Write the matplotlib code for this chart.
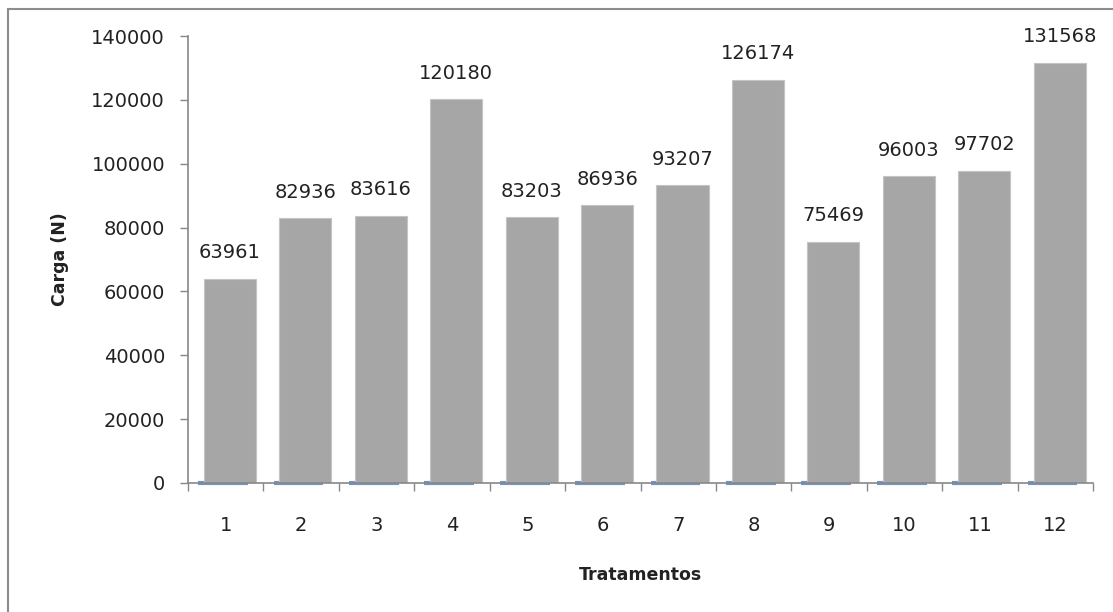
import numpy as np
import matplotlib.pyplot as plt
from matplotlib.lines import Line2D

# data
tratamentos = ['1', '2', '3', '4', '5', '6', '7', '8', '9', '10', '11', '12']
carga = [63961, 82936, 83616, 120180, 83203, 86936, 93207, 126174, 75469, 96003, 97702, 131568]
serie_azul = [0, 0, 0, 0, 0, 0, 0, 0, 0, 0, 0, 0]

fig = plt.figure(figsize=(11.13, 6.12), dpi=100)
ax = fig.add_axes([188 / 1113, 129 / 612, 905 / 1113, 447 / 612])

x = np.arange(len(tratamentos))
ax.bar(x - 0.036, serie_azul, width=0.66, color='#6F96CC', edgecolor='#6F96CC',
       linewidth=3, clip_on=False, zorder=2)
ax.bar(x + 0.057, carga, width=0.69, color='#A6A6A6', edgecolor='#C4C4C4',
       linewidth=0.8, zorder=3)

for xi, v in zip(x, carga):
    ax.annotate(str(v), (xi + 0.057, v), xytext=(0, 12), textcoords='offset points',
                ha='center', va='bottom', fontsize=14, color='#222222')

ax.set_xlim(-0.5, len(tratamentos) - 0.5)
ax.set_ylim(0, 140000)
ax.set_yticks(range(0, 140001, 20000))
ax.tick_params(axis='y', length=5.5, width=1, color='#888888', pad=11,
               labelsize=14, labelcolor='#222222')

ax.set_xticks(x)
ax.set_xticklabels(tratamentos)
ax.set_xticks(np.arange(-0.5, len(tratamentos)), minor=True)
ax.tick_params(axis='x', which='major', length=0, pad=24, labelsize=14, labelcolor='#222222')
ax.tick_params(axis='x', which='minor', length=6, width=1, color='#888888')

for s in ['top', 'right']:
    ax.spines[s].set_visible(False)
for s in ['left', 'bottom']:
    ax.spines[s].set_color('#888888')
    ax.spines[s].set_linewidth(1.2)
    ax.spines[s].set_zorder(4)

ax.set_xlabel('Tratamentos', fontsize=12.5, fontweight='bold', labelpad=22, color='#222222')
ax.set_ylabel('Carga (N)', fontsize=12.5, fontweight='bold', labelpad=16, color='#222222')

# outer chart border
fig.add_artist(Line2D([8 / 1113, 8 / 1113], [0, 1 - 9 / 612], transform=fig.transFigure,
                      color='#8C8C8C', linewidth=1.5))
fig.add_artist(Line2D([8 / 1113, 1], [1 - 9 / 612, 1 - 9 / 612], transform=fig.transFigure,
                      color='#8C8C8C', linewidth=1.5))

fig.savefig('out.png', dpi=100)
